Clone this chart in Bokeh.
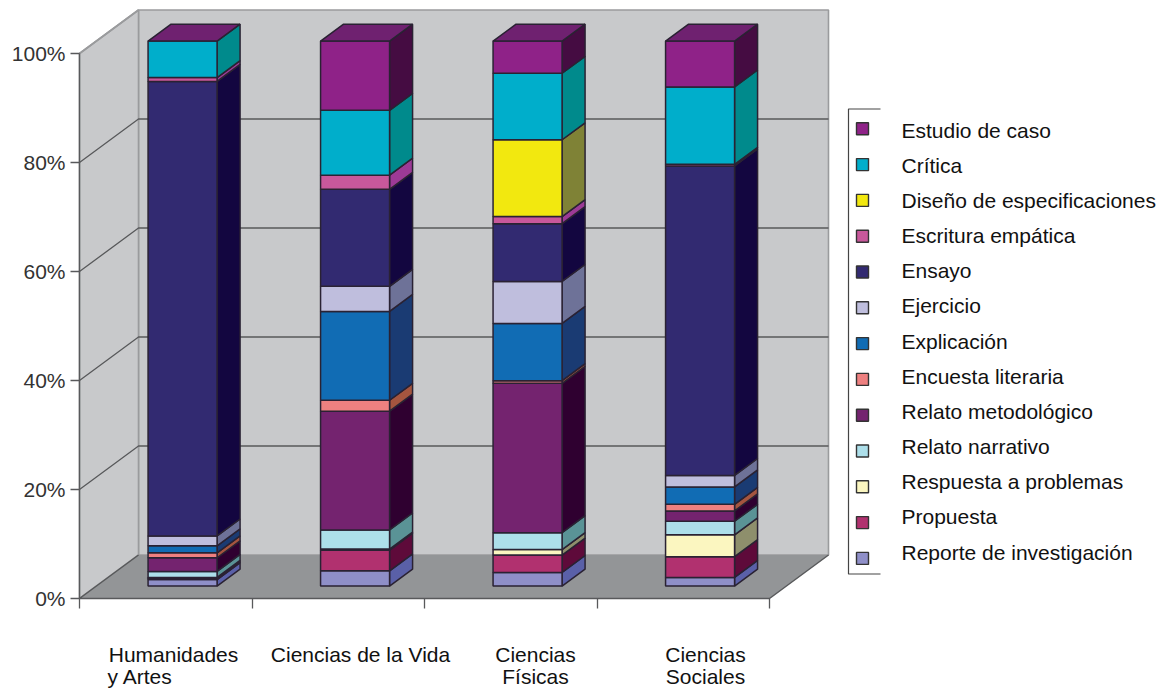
from itertools import accumulate

from bokeh.core.properties import value
from bokeh.embed import file_html
from bokeh.models import FixedTicker, LinearAxis, Range1d
from bokeh.plotting import figure
from bokeh.resources import INLINE

categories = ["Humanidades y Artes", "Ciencias de la Vida", "Ciencias Físicas", "Ciencias Sociales"]
category_lines = [["Humanidades", "y Artes"], ["Ciencias de la Vida"], ["Ciencias", "Físicas"], ["Ciencias", "Sociales"]]

# Stack order runs from the floor upward.
series_names = [
    "Reporte de investigación", "Propuesta", "Respuesta a problemas", "Relato narrativo",
    "Relato metodológico", "Encuesta literaria", "Explicación", "Ejercicio", "Ensayo",
    "Escritura empática", "Diseño de especificaciones", "Crítica", "Estudio de caso",
]
reporte = [1.2, 2.8, 2.5, 1.6]
propuesta = [0.2, 3.8, 3.2, 3.8]
respuesta = [0.2, 0.2, 1.0, 4.0]
narrativo = [1.1, 3.5, 3.1, 2.5]
metodologico = [2.5, 21.8, 27.4, 1.9]
encuesta = [0.9, 2.0, 0.5, 1.2]
explicacion = [1.3, 16.3, 10.5, 3.2]
ejercicio = [1.8, 4.6, 7.7, 2.1]
ensayo = [83.4, 17.8, 10.6, 56.8]
empatica = [0.7, 2.6, 1.3, 0.3]
diseno = [0.0, 0.0, 14.1, 0.0]
critica = [6.7, 11.9, 12.2, 14.2]
estudio = [0.0, 12.7, 5.9, 8.4]
series_values = [reporte, propuesta, respuesta, narrativo, metodologico, encuesta, explicacion,
                 ejercicio, ensayo, empatica, diseno, critica, estudio]

front_colors = ["#8f8fc8", "#b1316f", "#fbf6c0", "#addfea", "#74236f", "#ee8080", "#116cb4",
                "#bfbedd", "#322a71", "#c8589b", "#f2e80f", "#00aecb", "#8f2288"]
side_colors = ["#5a60a8", "#5e0a3a", "#8e8f6c", "#5a9396", "#2f0030", "#a5553f", "#1a3b73",
               "#6e7298", "#130640", "#9c3a96", "#7f8236", "#008a8c", "#450c42"]
top_color = "#6f2170"
edge_color = "#2a2233"

y_ticks = [0, 20, 40, 60, 80, 100]
y_tick_labels = ["0%", "20%", "40%", "60%", "80%", "100%"]

# Page geometry: one category spans 172.5 px, one percent 5.45 px, origin at (79, 598).
W, H = 1170, 690
X0, Y0, UX, UY = 79, 598, 172.5, 5.45
DEPTH_X, DEPTH_Y = 59 / UX, 43.5 / UY
BAR_FRONT, BAR_BACK = 0.285, 0.675
BAR_HALF = 0.2


def dx(px):
    return (px - X0) / UX


def dy(py):
    return (Y0 - py) / UY


def proj(x, y, depth):
    """Project a point of the box (category, percent, depth) on to the page plane."""
    return x + depth * DEPTH_X, y + depth * DEPTH_Y


def quad(points):
    xs, ys = zip(*[proj(*pt) for pt in points])
    return list(xs), list(ys)


p = figure(width=W, height=H, output_backend="svg", toolbar_location=None,
           x_axis_type=None, y_axis_type=None,
           x_range=Range1d(dx(0), dx(W)), y_range=Range1d(dy(H), dy(0)),
           min_border=0, outline_line_color=None, background_fill_color="white", border_fill_color="white")
p.grid.visible = False

n_cat = len(categories)
wall_line = "#9a9b9d"
grid_line = "#58595b"

# Walls and floor of the box
wall_xs, wall_ys = zip(
    quad([(0, 0, 1), (n_cat, 0, 1), (n_cat, 100, 1), (0, 100, 1)]),
    quad([(0, 0, 0), (0, 0, 1), (0, 100, 1), (0, 100, 0)]),
)
p.patches(list(wall_xs), list(wall_ys), fill_color="#c8c9cb", line_color=wall_line, line_width=1.6)
floor_x, floor_y = quad([(0, 0, 0), (n_cat, 0, 0), (n_cat, 0, 1), (0, 0, 1)])
p.patch(floor_x, floor_y, fill_color="#939597", line_color=None)

# Gridlines along the left wall and the back wall
grid_xs, grid_ys = [], []
for t in y_ticks[1:-1]:
    gx, gy = quad([(0, t, 0), (0, t, 1), (n_cat, t, 1)])
    grid_xs.append(gx)
    grid_ys.append(gy)
p.multi_line(grid_xs, grid_ys, line_color=grid_line, line_width=1.3)
edge_x, edge_y = quad([(0, 100, 0), (0, 100, 1)])
p.line(edge_x, edge_y, line_color=wall_line, line_width=1.6)
fl_x, fl_y = quad([(0, 0, 1), (0, 0, 0), (n_cat, 0, 0), (n_cat, 0, 1)])
p.line(fl_x, fl_y, line_color=grid_line, line_width=1.5)

# Stacked columns: side and front faces per segment, closed by a single top face
for c in range(n_cat):
    left = c + 0.5 - BAR_HALF
    right = c + 0.5 + BAR_HALF
    tops = list(accumulate(col[c] for col in series_values))
    bottoms = [0.0] + tops[:-1]
    for bottom, top, front, side in zip(bottoms, tops, front_colors, side_colors):
        if top == bottom:
            continue
        sx, sy = quad([(right, bottom, BAR_FRONT), (right, bottom, BAR_BACK),
                       (right, top, BAR_BACK), (right, top, BAR_FRONT)])
        p.patch(sx, sy, fill_color=side, line_color=edge_color, line_width=1.5)
        fx, fy = quad([(left, bottom, BAR_FRONT), (right, bottom, BAR_FRONT),
                       (right, top, BAR_FRONT), (left, top, BAR_FRONT)])
        p.patch(fx, fy, fill_color=front, line_color=edge_color, line_width=1.5)
    tx, ty = quad([(left, tops[-1], BAR_FRONT), (right, tops[-1], BAR_FRONT),
                   (right, tops[-1], BAR_BACK), (left, tops[-1], BAR_BACK)])
    p.patch(tx, ty, fill_color=top_color, line_color=edge_color, line_width=1.5)

# Axes pinned to the front edge of the floor
y_axis = LinearAxis(fixed_location=0, bounds=(0, 100), ticker=FixedTicker(ticks=y_ticks),
                    major_label_overrides=dict(zip(y_ticks, y_tick_labels)),
                    axis_line_color=grid_line, axis_line_width=1.4,
                    major_tick_line_color=grid_line, major_tick_line_width=1.4,
                    major_tick_in=0, major_tick_out=9, minor_tick_line_color=None,
                    major_label_standoff=5, major_label_text_font="Liberation Sans",
                    major_label_text_font_size="21px", major_label_text_color="#333333")
p.add_layout(y_axis, "left")

x_axis = LinearAxis(fixed_location=0, ticker=FixedTicker(ticks=list(range(n_cat + 1))),
                    axis_line_color=None, major_tick_line_color=grid_line, major_tick_line_width=1.3,
                    major_tick_in=0, major_tick_out=10, minor_tick_line_color=None,
                    major_label_text_color=None, major_label_text_font_size="1px")
p.add_layout(x_axis, "below")

# Category captions
font = value("Liberation Sans")
caption_centers = [173, 360, 535, 705]
caption_rows = [654, 676]
for lines, center in zip(category_lines, caption_centers):
    for i, line in enumerate(lines):
        if line == "y Artes":
            p.text([dx(107)], [dy(caption_rows[i])], text=[line], text_font=font, text_font_size="21px",
                   text_color="#111111", text_align="left", text_baseline="middle")
        else:
            p.text([dx(center)], [dy(caption_rows[i])], text=[line], text_font=font, text_font_size="21px",
                   text_color="#111111", text_align="center", text_baseline="middle")

# Legend, top of the stack first
legend_names = series_names[::-1]
legend_colors = front_colors[::-1]
frame_x = [dx(880), dx(848), dx(848), dx(880)]
frame_y = [dy(108.5), dy(108.5), dy(573.5), dy(573.5)]
p.line(frame_x, frame_y, line_color="#444444", line_width=1.2)
key_y = [dy(128.3 + i * 35.8) for i in range(len(legend_names))]
text_y = [dy(129.5 + i * 35.17) for i in range(len(legend_names))]
p.scatter([dx(862)] * len(legend_names), key_y, marker="square", size=12,
          fill_color=legend_colors, line_color="#333333", line_width=1.4)
p.text([dx(901)] * len(legend_names), text_y, text=legend_names, text_font=font, text_font_size="21px",
       text_color="#111111", text_align="left", text_baseline="middle")

open("out.html", "w").write(file_html(p, INLINE))
